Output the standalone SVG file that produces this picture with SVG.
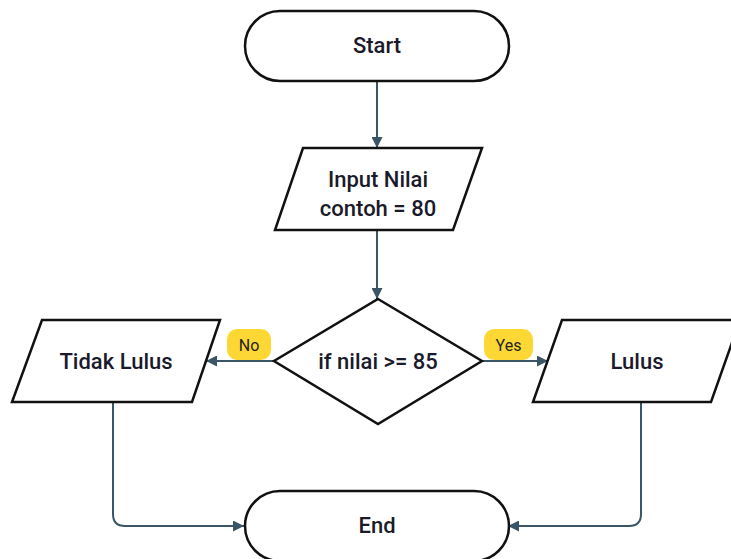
<svg xmlns="http://www.w3.org/2000/svg" width="731" height="559" viewBox="0 0 731 559">
  <style>
    .shape { fill: #ffffff; stroke: #111111; stroke-width: 2.5; }
    .txt { font-family: Roboto, "Liberation Sans", sans-serif; font-weight: 500; font-size: 22px; fill: #1a1a2a; text-anchor: middle; dominant-baseline: central; }
    .conn { fill: none; stroke: #3a5565; stroke-width: 2; }
    .lbl { fill: #fdd835; }
    .lbltxt { font-family: Roboto, "Liberation Sans", sans-serif; font-size: 16px; fill: #222222; text-anchor: middle; dominant-baseline: central; }
  </style>
  <defs>
    <marker id="arrow" viewBox="0 0 10 10" refX="10" refY="5" markerWidth="11" markerHeight="11" markerUnits="userSpaceOnUse" orient="auto">
      <path d="M0,0 L10,5 L0,10 Z" fill="#3a5565"/>
    </marker>
  </defs>
  <rect width="731" height="559" fill="#ffffff"/>

  <g id="connectors">
    <line class="conn" x1="377" y1="81" x2="377" y2="148" marker-end="url(#arrow)"/>
    <line class="conn" x1="377" y1="230" x2="377" y2="299" marker-end="url(#arrow)"/>
    <line class="conn" x1="274" y1="361" x2="206" y2="361" marker-end="url(#arrow)"/>
    <line class="conn" x1="482" y1="361" x2="548" y2="361" marker-end="url(#arrow)"/>
    <path class="conn" d="M113,402 L113,514 Q113,526 125,526 L244,526" marker-end="url(#arrow)"/>
    <path class="conn" d="M641,402 L641,514 Q641,526 629,526 L508,526" marker-end="url(#arrow)"/>
    <g id="label-no">
      <rect class="lbl" x="227" y="329" width="44" height="31" rx="10"/>
      <text class="lbltxt" x="249" y="345">No</text>
    </g>
    <g id="label-yes">
      <rect class="lbl" x="484" y="329" width="49" height="31" rx="10"/>
      <text class="lbltxt" x="508.5" y="345">Yes</text>
    </g>
  </g>

  <g id="start">
    <rect class="shape" x="245" y="11" width="264" height="70" rx="35"/>
    <text class="txt" x="377" y="45">Start</text>
  </g>

  <g id="input">
    <polygon class="shape" points="303,148 482,148 453,230 275,230"/>
    <text class="txt" x="378" y="179">Input Nilai</text>
    <text class="txt" x="378" y="208">contoh = 80</text>
  </g>

  <g id="decision">
    <polygon class="shape" points="378,299 482,361 378,424 274,361"/>
    <text class="txt" x="378" y="361">if nilai &gt;= 85</text>
  </g>

  <g id="tidak-lulus">
    <polygon class="shape" points="42,320 220,320 192,402 12,402"/>
    <text class="txt" x="116" y="361">Tidak Lulus</text>
  </g>

  <g id="lulus">
    <polygon class="shape" points="562,320 740,320 711,402 533,402"/>
    <text class="txt" x="637" y="361">Lulus</text>
  </g>

  <g id="end">
    <rect class="shape" x="245" y="491" width="264" height="70" rx="35"/>
    <text class="txt" x="377" y="525">End</text>
  </g>
</svg>
